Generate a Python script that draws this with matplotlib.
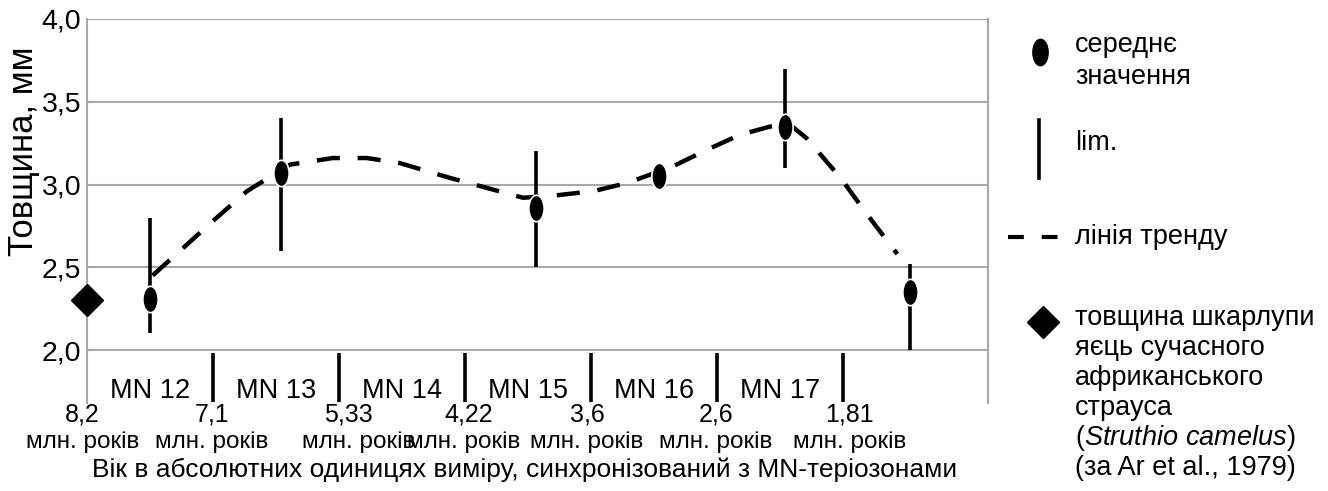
import matplotlib.pyplot as plt
import numpy as np
from matplotlib.path import Path

plt.rcParams['font.family'] = ['Liberation Sans', 'DejaVu Sans']
plt.rcParams['mathtext.fontset'] = 'custom'
plt.rcParams['mathtext.rm'] = 'Liberation Sans'
plt.rcParams['mathtext.it'] = 'Liberation Sans:italic'

# MN zones and boundary ages (mln years)
zones = ["MN 12", "MN 13", "MN 14", "MN 15", "MN 16", "MN 17"]
bounds = ["8,2", "7,1", "5,33", "4,22", "3,6", "2,6", "1,81"]

# samples: position (zone units), mean and limits (mm)
sample_x = [0.50, 1.54, 3.56, 4.54, 5.54, 6.53]
means = [2.31, 3.07, 2.86, 3.05, 3.35, 2.35]
lim_lo = [2.10, 2.60, 2.50, np.nan, 3.10, 2.00]
lim_hi = [2.80, 3.40, 3.20, np.nan, 3.70, 2.52]

# modern ostrich (Ar et al., 1979)
ostrich = 2.30

# trend line (x in zone units)
trend_x = [0.52, 0.71, 1.00, 1.27, 1.61, 1.95, 2.22, 2.48, 2.88, 3.17, 3.46, 3.67,
           4.02, 4.29, 4.65, 4.92, 5.18, 5.42, 5.58, 5.71, 5.98, 6.19, 6.43]
trend_y = [2.45, 2.58, 2.78, 2.96, 3.12, 3.16, 3.16, 3.13, 3.04, 2.98, 2.92, 2.93,
           2.96, 3.01, 3.11, 3.21, 3.30, 3.35, 3.36, 3.28, 3.04, 2.82, 2.58]

yticks = [2.0, 2.5, 3.0, 3.5, 4.0]

legend_lines = ["товщина шкарлупи", "яєць сучасного", "африканського", "страуса",
                r"($\mathit{Struthio\ camelus}$)", "(за Ar et al., 1979)"]

# small label nudges (px) so the age labels sit as in the original
num_dx = [-5, -1, 9, 4, -4, -1, 6]
mln_dx = [-4, -1, 20, -1, -4, -1, 7]

circ = Path.unit_circle()
ellipse = Path(circ.vertices * [0.58, 1.0], circ.codes)

W, H = 1328, 491
fig = plt.figure(figsize=(W / 100, H / 100), dpi=100)
ax = fig.add_axes([87 / W, 1 - 403 / H, 901 / W, 384 / H])
ax.set_xlim(0, 7.15)
ax.set_ylim(1.68, 4.0)
upx = 7.15 / 901  # zone units per pixel

grey = '#a8a8a8'
for v in yticks:
    ax.axhline(v, color=grey, lw=1.5, zorder=0)
for s in ['top', 'bottom']:
    ax.spines[s].set_visible(False)
for s in ['left', 'right']:
    ax.spines[s].set_color(grey)
    ax.spines[s].set_linewidth(1.5)

ax.set_xticks([])
ax.set_yticks(yticks)
ax.set_yticklabels([f"{v:.1f}".replace('.', ',') for v in yticks])
ax.tick_params(axis='y', length=0, pad=4, labelsize=20.5)

# zone boundaries
ax.vlines(range(1, len(bounds)), 1.685, 1.985, color='k', lw=2.6)
for i, b in enumerate(bounds):
    ax.text(i + num_dx[i] * upx, 1.61, b, ha='center', va='center', fontsize=18, clip_on=False)
    ax.text(i + mln_dx[i] * upx, 1.445, "млн. років", ha='center', va='center', fontsize=17.5,
            clip_on=False)
for i, z in enumerate(zones):
    ax.text(i + 0.5, 1.752, z, ha='center', va='center', fontsize=19.5)

ax.vlines(sample_x, lim_lo, lim_hi, color='k', lw=2.6, zorder=3)
ax.plot(trend_x, trend_y, color='k', lw=3.2, ls=(0, (5.2, 4)), zorder=4)
ax.plot(sample_x, means, ls='none', marker=ellipse, ms=19, mfc='k', mec='white', mew=1.2, zorder=5)
ax.plot([0], [ostrich], ls='none', marker='D', ms=16, color='k', clip_on=False, zorder=6)

fig.text(24 / W, 1 - 151 / H, "Товщина, мм", rotation=90, ha='center', va='center', fontsize=25)
fig.text(525 / W, 1 - 470 / H, "Вік в абсолютних одиницях виміру, синхронізований з MN-теріозонами",
         ha='center', va='center', fontsize=19)

# legend drawn by hand
leg = fig.add_axes([990 / W, 0, 338 / W, 1])
leg.set_xlim(990, W)
leg.set_ylim(H, 0)
leg.axis('off')
leg.plot([1040], [52], marker=ellipse, ms=19, color='k')
leg.plot([1039, 1039], [120, 178], color='k', lw=2.6)
leg.plot([1008, 1058], [237, 237], color='k', lw=3, ls=(0, (3.8, 4.3)))
leg.plot([1043], [322], marker='D', ms=16, color='k')
tx = 1075
leg.text(tx, 45, "середнє", va='center', fontsize=19.5)
leg.text(tx, 77, "значення", va='center', fontsize=19.5)
leg.text(tx, 143, "lim.", va='center', fontsize=19.5)
leg.text(tx, 237, "лінія тренду", va='center', fontsize=19.5)
for k, line in enumerate(legend_lines):
    leg.text(tx, 318 + 30 * k, line, va='center', fontsize=19.5)

fig.savefig('out.png', dpi=100)
